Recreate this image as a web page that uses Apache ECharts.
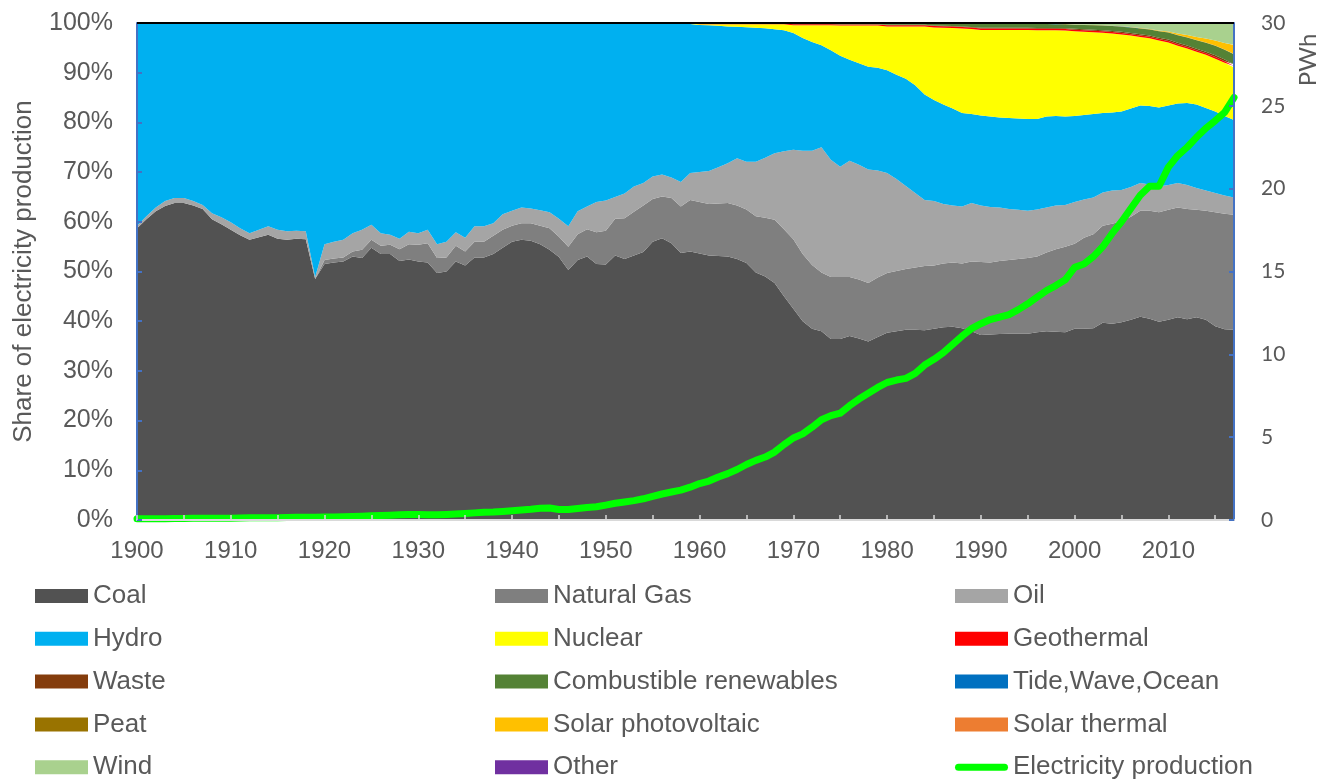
<!DOCTYPE html>
<html>
<head>
<meta charset="utf-8">
<script src="https://cdn.jsdelivr.net/npm/echarts@6/dist/echarts.min.js"></script>
<style>
  html, body { margin: 0; padding: 0; background: #fff; }
  #chart { width: 1334px; height: 780px; }
</style>
</head>
<body>
<div id="chart"></div>
<script>
// years 1900..2017
var years = [];
for (var y = 1900; y <= 2017; y++) years.push(String(y));

// shares of electricity production, % (one value per year)
var coal = [
  58.7, 60.5, 62.1, 63.2, 63.8, 63.8, 63.3, 62.6, 60.5, 59.5,
  58.4, 57.3, 56.4, 56.9, 57.4, 56.6, 56.4, 56.6, 56.5, 48.5,
  51.5, 51.8, 52.0, 53.0, 52.7, 54.8, 53.5, 53.5, 52.1, 52.4,
  52.0, 51.8, 49.7, 50.0, 52.0, 51.2, 52.8, 52.8, 53.5, 54.8,
  56.0, 56.4, 56.2, 55.5, 54.4, 52.9, 50.3, 52.3, 53.0, 51.5,
  51.4, 53.2, 52.5, 53.2, 53.9, 56.0, 56.7, 55.7, 53.7, 54.0,
  53.6, 53.2, 53.1, 53.0, 52.5, 51.7, 49.8, 49.0, 47.7, 45.0,
  42.5, 40.0, 38.5, 38.0, 36.4, 36.4, 37.0, 36.5, 35.9, 36.8,
  37.7, 38.0, 38.3, 38.3, 38.2, 38.5, 38.8, 38.9, 38.6, 38.0,
  37.2, 37.3, 37.4, 37.5, 37.5, 37.5, 37.8, 38.0, 37.9, 37.8,
  38.5, 38.5, 38.6, 39.7, 39.5, 39.8, 40.3, 40.9, 40.5, 39.9,
  40.3, 40.8, 40.4, 40.8, 40.3, 39.0, 38.4, 38.3
];
var gas = [
  0, 0, 0, 0, 0, 0, 0, 0, 0, 0,
  0, 0, 0, 0, 0, 0, 0, 0, 0, 0,
  0.8, 0.8, 0.8, 1.0, 1.7, 1.6, 1.7, 1.9, 2.4, 3.1,
  3.4, 3.9, 3.0, 2.8, 3.2, 2.8, 3.2, 3.2, 3.7, 3.6,
  3.2, 3.3, 3.5, 3.7, 4.3, 4.1, 4.7, 5.2, 5.5, 6.4,
  6.8, 7.4, 8.2, 8.8, 9.4, 8.6, 8.4, 9.1, 9.4, 10.4,
  10.4, 10.4, 10.6, 10.8, 10.8, 10.8, 11.3, 11.8, 12.7, 13.5,
  14.0, 13.5, 12.8, 11.8, 12.5, 12.5, 11.9, 11.9, 11.8, 12.0,
  12.0, 12.1, 12.2, 12.5, 12.9, 12.7, 12.8, 12.9, 13.0, 14.0,
  14.7, 14.5, 14.7, 14.8, 15.0, 15.2, 15.2, 15.8, 16.6, 17.2,
  17.1, 18.3, 18.9, 19.5, 20.1, 20.3, 20.7, 21.3, 21.7, 22.0,
  22.1, 22.1, 22.2, 21.6, 21.9, 22.9, 23.2, 23.1
];
var oil = [
  0.5, 0.6, 0.8, 1.0, 1.0, 1.0, 0.9, 0.8, 1.2, 1.4,
  1.5, 1.4, 1.3, 1.5, 1.7, 1.8, 1.7, 1.6, 1.6, 0.4,
  3.2, 3.4, 3.6, 3.7, 4.0, 3.0, 2.5, 2.0, 2.1, 2.5,
  2.3, 2.7, 2.8, 3.2, 2.7, 2.8, 3.1, 3.1, 2.5, 3.1,
  3.0, 3.2, 3.0, 3.1, 3.2, 3.6, 4.1, 4.6, 4.6, 6.1,
  6.1, 4.4, 5.0, 5.1, 4.5, 4.5, 4.4, 4.1, 4.9, 5.4,
  6.0, 6.6, 7.3, 8.0, 9.5, 9.6, 11.0, 12.1, 13.4, 15.7,
  18.0, 20.8, 23.0, 25.2, 23.6, 22.2, 23.4, 23.1, 22.8, 21.5,
  20.1, 18.5, 16.7, 15.0, 13.3, 13.0, 12.0, 11.5, 11.5, 11.8,
  11.4, 11.2, 10.8, 10.3, 9.9, 9.5, 9.5, 9.1, 8.8, 8.4,
  8.4, 7.7, 7.4, 6.7, 6.7, 6.3, 6.0, 5.6, 5.3, 5.2,
  5.0, 4.9, 4.8, 4.4, 4.1, 3.9, 3.7, 3.5
];
var hydro = [
  40.8, 38.9, 37.1, 35.8, 35.2, 35.2, 35.8, 36.6, 38.3, 39.1,
  40.1, 41.3, 42.3, 41.6, 40.9, 41.6, 41.9, 41.8, 41.9, 51.1,
  44.5, 44.0, 43.6, 42.3, 41.6, 40.6, 42.3, 42.6, 43.4, 42.0,
  42.3, 41.6, 44.5, 44.0, 42.1, 43.1, 40.8, 40.8, 40.2, 38.4,
  37.7, 37.0, 37.2, 37.6, 38.0, 39.3, 40.8, 37.8, 36.8, 35.9,
  35.6, 34.9, 34.2, 32.8, 32.1, 30.8, 30.4, 31.0, 31.85, 30.0,
  29.6, 29.35, 28.45, 27.5, 26.45, 27.05, 26.95, 26.04, 24.94, 24.34,
  23.5, 22.7, 21.9, 20.5, 22.0, 22.3, 20.3, 20.4, 20.7, 20.7,
  20.7, 21.0, 21.6, 21.7, 21.2, 20.3, 20.0, 19.5, 18.8, 17.9,
  18.1, 18.2, 18.1, 18.3, 18.4, 18.5, 18.2, 18.3, 18.0, 17.8,
  17.3, 17.0, 16.8, 16.0, 15.7, 15.8, 15.8, 15.6, 15.8, 15.9,
  16.0, 16.0, 16.5, 16.8, 16.6, 16.4, 16.0, 15.6
];
var nuclear = [
  0, 0, 0, 0, 0, 0, 0, 0, 0, 0,
  0, 0, 0, 0, 0, 0, 0, 0, 0, 0,
  0, 0, 0, 0, 0, 0, 0, 0, 0, 0,
  0, 0, 0, 0, 0, 0, 0, 0, 0, 0,
  0, 0, 0, 0, 0, 0, 0, 0, 0, 0,
  0, 0, 0, 0, 0, 0, 0.01, 0.02, 0.05, 0.1,
  0.15, 0.2, 0.3, 0.45, 0.5, 0.6, 0.7, 0.8, 1.0, 1.2,
  1.57, 2.57, 3.37, 4.07, 5.07, 6.12, 6.92, 7.62, 8.32, 8.52,
  8.82, 9.72, 10.52, 11.82, 13.72, 14.61, 15.46, 16.21, 17.01, 17.11,
  17.2, 17.4, 17.59, 17.69, 17.78, 17.87, 17.86, 17.34, 17.22, 17.29,
  17.03, 16.73, 16.43, 16.13, 15.88, 15.47, 14.66, 13.8, 13.62, 13.48,
  12.66, 11.61, 10.96, 10.6, 10.7, 10.63, 10.68, 10.53
];
var geothermal = [
  0, 0, 0, 0, 0, 0, 0, 0, 0, 0,
  0, 0, 0, 0, 0, 0, 0, 0, 0, 0,
  0, 0, 0, 0, 0, 0, 0, 0, 0, 0,
  0, 0, 0, 0, 0, 0.1, 0.1, 0.1, 0.1, 0.1,
  0.1, 0.1, 0.1, 0.1, 0.1, 0.1, 0.1, 0.1, 0.1, 0.1,
  0.1, 0.1, 0.1, 0.1, 0.1, 0.1, 0.1, 0.1, 0.1, 0.1,
  0.15, 0.15, 0.15, 0.15, 0.15, 0.15, 0.15, 0.15, 0.15, 0.15,
  0.2, 0.2, 0.2, 0.2, 0.2, 0.2, 0.2, 0.2, 0.2, 0.2,
  0.25, 0.25, 0.25, 0.25, 0.25, 0.3, 0.3, 0.3, 0.3, 0.3,
  0.3, 0.3, 0.3, 0.3, 0.3, 0.3, 0.3, 0.3, 0.3, 0.3,
  0.3, 0.3, 0.3, 0.3, 0.3, 0.3, 0.3, 0.3, 0.3, 0.3,
  0.32, 0.32, 0.32, 0.32, 0.32, 0.32, 0.32, 0.32
];
var waste = [
  0, 0, 0, 0, 0, 0, 0, 0, 0, 0,
  0, 0, 0, 0, 0, 0, 0, 0, 0, 0,
  0, 0, 0, 0, 0, 0, 0, 0, 0, 0,
  0, 0, 0, 0, 0, 0, 0, 0, 0, 0,
  0, 0, 0, 0, 0, 0, 0, 0, 0, 0,
  0, 0, 0, 0, 0, 0, 0, 0, 0, 0,
  0, 0, 0, 0, 0, 0, 0, 0, 0, 0,
  0.05, 0.05, 0.05, 0.05, 0.05, 0.05, 0.05, 0.05, 0.05, 0.05,
  0.1, 0.1, 0.1, 0.1, 0.1, 0.1, 0.1, 0.1, 0.1, 0.1,
  0.15, 0.15, 0.15, 0.15, 0.15, 0.15, 0.15, 0.15, 0.15, 0.15,
  0.2, 0.2, 0.2, 0.2, 0.2, 0.25, 0.25, 0.25, 0.25, 0.25,
  0.3, 0.3, 0.3, 0.3, 0.3, 0.35, 0.35, 0.35
];
var combustible = [
  0, 0, 0, 0, 0, 0, 0, 0, 0, 0,
  0, 0, 0, 0, 0, 0, 0, 0, 0, 0,
  0, 0, 0, 0, 0, 0, 0, 0, 0, 0,
  0, 0, 0, 0, 0, 0, 0, 0, 0, 0,
  0, 0, 0, 0, 0, 0, 0, 0, 0, 0,
  0, 0, 0, 0, 0, 0, 0, 0, 0, 0,
  0.05, 0.05, 0.05, 0.05, 0.05, 0.05, 0.05, 0.05, 0.05, 0.05,
  0.1, 0.1, 0.1, 0.1, 0.1, 0.15, 0.15, 0.15, 0.15, 0.15,
  0.25, 0.25, 0.25, 0.25, 0.25, 0.4, 0.45, 0.5, 0.6, 0.7,
  0.8, 0.8, 0.8, 0.8, 0.8, 0.8, 0.8, 0.8, 0.8, 0.8,
  0.8, 0.85, 0.9, 0.95, 1.0, 1.05, 1.1, 1.15, 1.2, 1.3,
  1.4, 1.5, 1.6, 1.7, 1.8, 1.9, 1.95, 2.0
];
var tide = [
  0, 0, 0, 0, 0, 0, 0, 0, 0, 0,
  0, 0, 0, 0, 0, 0, 0, 0, 0, 0,
  0, 0, 0, 0, 0, 0, 0, 0, 0, 0,
  0, 0, 0, 0, 0, 0, 0, 0, 0, 0,
  0, 0, 0, 0, 0, 0, 0, 0, 0, 0,
  0, 0, 0, 0, 0, 0, 0, 0, 0, 0,
  0, 0, 0, 0, 0, 0, 0, 0.01, 0.01, 0.01,
  0.01, 0.01, 0.01, 0.01, 0.01, 0.01, 0.01, 0.01, 0.01, 0.01,
  0.01, 0.01, 0.01, 0.01, 0.01, 0.01, 0.01, 0.01, 0.01, 0.01,
  0.01, 0.01, 0.01, 0.01, 0.01, 0.01, 0.01, 0.01, 0.01, 0.01,
  0.01, 0.01, 0.01, 0.01, 0.01, 0.01, 0.01, 0.01, 0.01, 0.01,
  0.01, 0.01, 0.01, 0.01, 0.01, 0.01, 0.01, 0.01
];
var peat = [
  0, 0, 0, 0, 0, 0, 0, 0, 0, 0,
  0, 0, 0, 0, 0, 0, 0, 0, 0, 0,
  0, 0, 0, 0, 0, 0, 0, 0, 0, 0,
  0, 0, 0, 0, 0, 0, 0, 0, 0, 0,
  0, 0, 0, 0, 0, 0, 0, 0, 0, 0,
  0, 0, 0, 0, 0, 0, 0, 0, 0, 0,
  0.05, 0.05, 0.05, 0.05, 0.05, 0.05, 0.05, 0.05, 0.05, 0.05,
  0.05, 0.05, 0.05, 0.05, 0.05, 0.05, 0.05, 0.05, 0.05, 0.05,
  0.05, 0.05, 0.05, 0.05, 0.05, 0.05, 0.05, 0.05, 0.05, 0.05,
  0.05, 0.05, 0.05, 0.05, 0.05, 0.05, 0.05, 0.05, 0.05, 0.05,
  0.05, 0.05, 0.05, 0.05, 0.05, 0.05, 0.05, 0.05, 0.05, 0.05,
  0.05, 0.05, 0.05, 0.05, 0.05, 0.05, 0.05, 0.05
];
var solarPV = [
  0, 0, 0, 0, 0, 0, 0, 0, 0, 0,
  0, 0, 0, 0, 0, 0, 0, 0, 0, 0,
  0, 0, 0, 0, 0, 0, 0, 0, 0, 0,
  0, 0, 0, 0, 0, 0, 0, 0, 0, 0,
  0, 0, 0, 0, 0, 0, 0, 0, 0, 0,
  0, 0, 0, 0, 0, 0, 0, 0, 0, 0,
  0, 0, 0, 0, 0, 0, 0, 0, 0, 0,
  0, 0, 0, 0, 0, 0, 0, 0, 0, 0,
  0, 0, 0, 0, 0, 0, 0, 0, 0, 0,
  0, 0, 0, 0, 0, 0, 0, 0, 0, 0,
  0, 0, 0, 0, 0, 0.01, 0.02, 0.03, 0.06, 0.1,
  0.15, 0.3, 0.45, 0.6, 0.8, 1.0, 1.3, 1.8
];
var solarThermal = [
  0, 0, 0, 0, 0, 0, 0, 0, 0, 0,
  0, 0, 0, 0, 0, 0, 0, 0, 0, 0,
  0, 0, 0, 0, 0, 0, 0, 0, 0, 0,
  0, 0, 0, 0, 0, 0, 0, 0, 0, 0,
  0, 0, 0, 0, 0, 0, 0, 0, 0, 0,
  0, 0, 0, 0, 0, 0, 0, 0, 0, 0,
  0, 0, 0, 0, 0, 0, 0, 0, 0, 0,
  0, 0, 0, 0, 0, 0, 0, 0, 0, 0,
  0, 0, 0, 0, 0, 0.01, 0.01, 0.01, 0.01, 0.01,
  0.01, 0.01, 0.01, 0.01, 0.01, 0.01, 0.01, 0.01, 0.01, 0.01,
  0.01, 0.01, 0.01, 0.01, 0.01, 0.01, 0.01, 0.01, 0.01, 0.01,
  0.01, 0.01, 0.01, 0.02, 0.02, 0.04, 0.04, 0.04
];
var wind = [
  0, 0, 0, 0, 0, 0, 0, 0, 0, 0,
  0, 0, 0, 0, 0, 0, 0, 0, 0, 0,
  0, 0, 0, 0, 0, 0, 0, 0, 0, 0,
  0, 0, 0, 0, 0, 0, 0, 0, 0, 0,
  0, 0, 0, 0, 0, 0, 0, 0, 0, 0,
  0, 0, 0, 0, 0, 0, 0, 0, 0, 0,
  0, 0, 0, 0, 0, 0, 0, 0, 0, 0,
  0, 0, 0, 0, 0, 0, 0, 0, 0, 0,
  0, 0, 0, 0, 0, 0, 0, 0, 0, 0,
  0.03, 0.03, 0.04, 0.04, 0.05, 0.06, 0.07, 0.09, 0.11, 0.14,
  0.2, 0.25, 0.3, 0.35, 0.45, 0.55, 0.7, 0.9, 1.1, 1.4,
  1.6, 2.0, 2.3, 2.7, 3.0, 3.4, 3.9, 4.3
];
var other = [
  0, 0, 0, 0, 0, 0, 0, 0, 0, 0,
  0, 0, 0, 0, 0, 0, 0, 0, 0, 0,
  0, 0, 0, 0, 0, 0, 0, 0, 0, 0,
  0, 0, 0, 0, 0, 0, 0, 0, 0, 0,
  0, 0, 0, 0, 0, 0, 0, 0, 0, 0,
  0, 0, 0, 0, 0, 0, 0, 0, 0, 0,
  0, 0, 0, 0, 0, 0, 0, 0, 0, 0,
  0.02, 0.02, 0.02, 0.02, 0.02, 0.02, 0.02, 0.02, 0.02, 0.02,
  0.02, 0.02, 0.02, 0.02, 0.02, 0.02, 0.02, 0.02, 0.02, 0.02,
  0.05, 0.05, 0.05, 0.05, 0.05, 0.05, 0.05, 0.05, 0.05, 0.05,
  0.1, 0.1, 0.1, 0.1, 0.1, 0.1, 0.1, 0.1, 0.1, 0.1,
  0.1, 0.1, 0.1, 0.1, 0.1, 0.1, 0.1, 0.1
];

// total electricity production, PWh
var production = [
  0.07, 0.07, 0.08, 0.08, 0.09, 0.09, 0.1, 0.1, 0.1, 0.11,
  0.11, 0.12, 0.13, 0.13, 0.14, 0.14, 0.15, 0.16, 0.17, 0.17,
  0.18, 0.18, 0.19, 0.21, 0.23, 0.25, 0.27, 0.29, 0.31, 0.33,
  0.33, 0.32, 0.31, 0.33, 0.36, 0.39, 0.43, 0.47, 0.48, 0.52,
  0.56, 0.61, 0.65, 0.71, 0.72, 0.63, 0.64, 0.70, 0.76, 0.80,
  0.90, 1.01, 1.09, 1.17, 1.28, 1.43, 1.57, 1.69, 1.80, 1.98,
  2.20, 2.35, 2.60, 2.80, 3.05, 3.35, 3.60, 3.80, 4.10, 4.55,
  4.95, 5.20, 5.60, 6.05, 6.30, 6.45, 6.90, 7.30, 7.65, 8.00,
  8.30, 8.45, 8.55, 8.85, 9.35, 9.70, 10.10, 10.60, 11.10, 11.55,
  11.85, 12.10, 12.25, 12.40, 12.70, 13.05, 13.45, 13.85, 14.15, 14.50,
  15.25, 15.45, 15.90, 16.50, 17.30, 18.00, 18.80, 19.60, 20.15, 20.15,
  21.30, 22.00, 22.50, 23.10, 23.65, 24.10, 24.60, 25.50
];

var areaNames = ['Coal', 'Natural Gas', 'Oil', 'Hydro', 'Nuclear', 'Geothermal', 'Waste',
  'Combustible renewables', 'Tide,Wave,Ocean', 'Peat', 'Solar photovoltaic',
  'Solar thermal', 'Wind', 'Other'];
var areaData = [coal, gas, oil, hydro, nuclear, geothermal, waste, combustible,
  tide, peat, solarPV, solarThermal, wind, other];
var areaColors = ['#525252', '#7f7f7f', '#a5a5a5', '#00b0f0', '#ffff00', '#ff0000', '#843c0c',
  '#548235', '#0070c0', '#997300', '#ffc000', '#ed7d31', '#a9d18e', '#7030a0'];

var ARIAL = '"Liberation Sans", Arial, sans-serif';
var GREY = '#595959';
// rounded bar used as the legend key of the production line
var LINE_ICON = 'path://M3.5,0 L49.5,0 A3.5,3.5 0 0 1 49.5,7 L3.5,7 A3.5,3.5 0 0 1 3.5,0 Z';

var series = areaNames.map(function (name, i) {
  return {
    name: name,
    type: 'line',
    stack: 'share',
    data: areaData[i],
    symbol: 'none',
    lineStyle: { width: 0 },
    itemStyle: { color: areaColors[i] },
    areaStyle: { color: areaColors[i], opacity: 1 },
    emphasis: { disabled: true },
    silent: true
  };
});
series.push({
  name: 'Electricity production',
  type: 'line',
  yAxisIndex: 1,
  data: production,
  symbol: 'none',
  z: 5,
  lineStyle: { width: 7, color: '#00ff00', cap: 'round', join: 'round' },
  itemStyle: { color: '#00ff00' },
  emphasis: { disabled: true },
  silent: true
});

function legendCol(left, names) {
  return {
    orient: 'vertical',
    left: left,
    top: 583,
    height: 230,
    padding: 0,
    itemWidth: 53,
    itemHeight: 14,
    itemGap: 16.8,
    itemTextGap: 5,
    selectedMode: false,
    textStyle: { fontSize: 26, color: GREY, fontFamily: ARIAL, lineHeight: 26 },
    data: names.map(function (n) {
      return { name: n, icon: n === 'Electricity production' ? LINE_ICON : 'rect' };
    })
  };
}

var chart = echarts.init(document.getElementById('chart'), null, { renderer: 'canvas' });
chart.setOption({
  animation: false,
  backgroundColor: '#fff',
  grid: { left: 137, right: 100, top: 23, bottom: 260, containLabel: false },
  legend: [
    legendCol(35, ['Coal', 'Hydro', 'Waste', 'Peat', 'Wind']),
    legendCol(495, ['Natural Gas', 'Nuclear', 'Combustible renewables', 'Solar photovoltaic', 'Other']),
    legendCol(955, ['Oil', 'Geothermal', 'Tide,Wave,Ocean', 'Solar thermal', 'Electricity production'])
  ],
  xAxis: {
    type: 'category',
    data: years,
    boundaryGap: false,
    z: 10,
    axisLine: { lineStyle: { color: '#d9d9d9', width: 2 } },
    axisTick: { inside: true, length: 5, interval: 4, lineStyle: { color: '#d9d9d9', width: 1.5 } },
    axisLabel: { interval: 9, margin: 19, fontSize: 24, color: GREY, fontFamily: ARIAL },
    splitLine: { show: false }
  },
  yAxis: [{
    type: 'value',
    min: 0, max: 100, interval: 10,
    z: 10,
    name: 'Share of electricity production',
    nameLocation: 'middle',
    nameGap: 100,
    nameTextStyle: { fontSize: 26, color: GREY, fontFamily: ARIAL },
    axisLine: { show: true, lineStyle: { color: '#4472c4', width: 2 } },
    axisTick: { show: true, inside: true, length: 5, lineStyle: { color: '#4472c4', width: 2 } },
    axisLabel: { formatter: '{value}%', margin: 24, fontSize: 25, color: GREY, fontFamily: ARIAL },
    splitLine: { show: false }
  }, {
    type: 'value',
    min: 0, max: 30, interval: 5,
    position: 'right',
    z: 10,
    axisLine: { show: true, lineStyle: { color: '#4472c4', width: 2 } },
    axisTick: { show: true, inside: true, length: 5, lineStyle: { color: '#4472c4', width: 2 } },
    axisLabel: { margin: 27, fontSize: 21, color: GREY, fontFamily: 'Lato, "Open Sans", sans-serif' },
    splitLine: { show: false }
  }],
  graphic: [{
    // dark top edge of the plot area
    type: 'line',
    z: 100,
    shape: { x1: 137, y1: 23, x2: 1234, y2: 23 },
    style: { stroke: '#000', lineWidth: 2 }
  }, {
    type: 'text',
    x: 1308, y: 60,
    rotation: Math.PI / 2,
    style: {
      text: 'PWh', fontSize: 24, fill: GREY, fontFamily: 'Lato, "Open Sans", sans-serif',
      align: 'center', verticalAlign: 'middle'
    }
  }],
  series: series
});
</script>
</body>
</html>
